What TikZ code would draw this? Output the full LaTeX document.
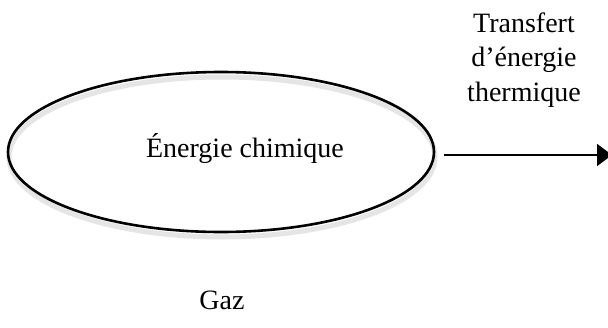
\documentclass[tikz,border=0pt]{standalone}
\usepackage{fontspec}
\setmainfont{Liberation Serif}
\usetikzlibrary{shapes.geometric,arrows.meta}
\begin{document}
\begin{tikzpicture}[x=1pt,y=-1pt,
  lbl/.style={font=\fontsize{28}{34.5}\selectfont, inner sep=0pt},
  bubble/.style={ellipse, draw, line width=2.6pt, minimum width=426pt, minimum height=160pt, inner sep=0pt},
  shade/.style={ellipse, draw=black!10, line width=5pt, minimum width=426pt, minimum height=160pt, inner sep=0pt},
  arr/.style={line width=2pt, -{Triangle[length=15pt,width=22pt]}}]
\useasboundingbox (0,0) rectangle (608,327);
\node[shade] (sh) at (222,157) {};
\node[bubble] (e) at (221,152) {};
\node[lbl, anchor=base] (t) at (245,157) {Énergie chimique};
\coordinate (as) at (444,155);
\coordinate (ae) at (612,155);
\draw[arr] (as) -- (ae);
\node[lbl, anchor=base, align=center] (tr) at (524,101) {Transfert\\d’énergie\\thermique};
\node[lbl, anchor=base] (g) at (222,309) {Gaz};
\end{tikzpicture}
\end{document}
